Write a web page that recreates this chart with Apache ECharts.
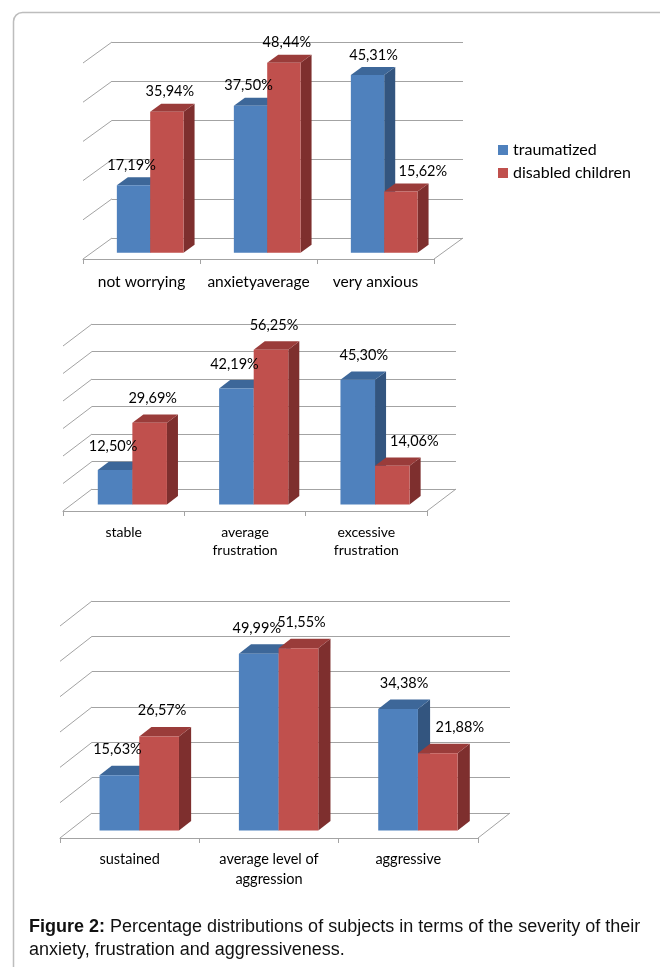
<!DOCTYPE html>
<html><head><meta charset="utf-8">
<script src="https://cdn.jsdelivr.net/npm/echarts@6/dist/echarts.min.js"></script>
<style>html,body{margin:0;padding:0;background:#fff}#c{width:660px;height:967px}</style>
</head><body><div id="c"></div>
<script>
// ---------- data ----------
const seriesNames = ['traumatized', 'disabled children'];
const anxietyCategories = ['not worrying', 'anxietyaverage', 'very anxious'];
const anxietyTraumatized = [17.19, 37.50, 45.31];
const anxietyDisabled = [35.94, 48.44, 15.62];
const frustrationCategories = ['stable', 'average\nfrustration', 'excessive\nfrustration'];
const frustrationTraumatized = [12.50, 42.19, 45.30];
const frustrationDisabled = [29.69, 56.25, 14.06];
const aggressionCategories = ['sustained', 'average level of\naggression', 'aggressive'];
const aggressionTraumatized = [15.63, 49.99, 34.38];
const aggressionDisabled = [26.57, 51.55, 21.88];
const axisMaxima = [50, 60, 60];
const axisInterval = 10;
const captionBold = 'Figure 2:';
const captionText = ' Percentage distributions of subjects in terms of the severity of their\nanxiety, frustration and aggressiveness.';

// ---------- layout / style ----------
const FONT = 'Lato';
const GRID_COLOR = '#A3A3A3';
const BAR_W = 0.285, FRONT_INSET = 0.30, BAR_DEPTH = 0.38;
const COLORS = [
  {front: '#4F81BD', top: '#3D6799', side: '#33557F'},
  {front: '#C0504D', top: '#9A3C3A', side: '#7E2F2E'}
];
const panels = [
  {cats: anxietyCategories, vals: [anxietyTraumatized, anxietyDisabled], max: axisMaxima[0],
   back: {left: 112, top: 42, width: 351, height: 196}, dx: -29, dy: 21, labelGap: 20, catMargin: 14, catLH: 18, catSize: 15.5},
  {cats: frustrationCategories, vals: [frustrationTraumatized, frustrationDisabled], max: axisMaxima[1],
   back: {left: 92, top: 324, width: 364, height: 165}, dx: -29, dy: 22, labelGap: 24, catMargin: 12, catLH: 18, catSize: 14},
  {cats: aggressionCategories, vals: [aggressionTraumatized, aggressionDisabled], max: axisMaxima[2],
   back: {left: 92, top: 601, width: 418, height: 212}, dx: -32, dy: 25, labelGap: 26, catMargin: 11, catLH: 20, catSize: 14.5}
];

function fmt(v) { return v.toFixed(2).replace('.', ',') + '%'; }

const grid = [], xAxis = [], yAxis = [], series = [];
panels.forEach((P, pi) => {
  const gBack = grid.length;
  grid.push({left: P.back.left, top: P.back.top, width: P.back.width, height: P.back.height});
  grid.push({left: P.back.left + P.dx, top: P.back.top + P.dy, width: P.back.width, height: P.back.height});
  const gFront = gBack + 1;
  // back wall axes
  xAxis.push({gridIndex: gBack, type: 'category', data: P.cats, show: false});
  yAxis.push({gridIndex: gBack, type: 'value', min: 0, max: P.max, interval: axisInterval,
    axisLine: {show: false}, axisTick: {show: false}, axisLabel: {show: false},
    splitLine: {show: true, lineStyle: {color: GRID_COLOR, width: 1}}});
  // front floor axes
  xAxis.push({gridIndex: gFront, type: 'category', data: P.cats, boundaryGap: true,
    axisLine: {show: true, lineStyle: {color: GRID_COLOR, width: 1}},
    axisTick: {show: true, length: 5, lineStyle: {color: GRID_COLOR}},
    axisLabel: {interval: 0, margin: P.catMargin, fontFamily: FONT, fontSize: P.catSize, color: '#000', lineHeight: P.catLH}});
  yAxis.push({gridIndex: gFront, type: 'value', min: 0, max: P.max, interval: axisInterval, show: false,
    splitLine: {show: false}});

  // left wall diagonals + right floor diagonal
  const ticks = [];
  for (let v = 0; v <= P.max; v += axisInterval) ticks.push([0, v]);
  series.push({
    type: 'custom', xAxisIndex: gBack, yAxisIndex: gBack, silent: true, data: ticks,
    renderItem: (params, api) => {
      const y = api.coord([0, api.value(1)])[1];
      const cs = params.coordSys;
      const children = [{type: 'line', shape: {x1: cs.x, y1: y, x2: cs.x + P.dx, y2: y + P.dy},
        style: {stroke: GRID_COLOR, lineWidth: 1}}];
      if (api.value(1) === 0) {
        children.push({type: 'line', shape: {x1: cs.x + cs.width, y1: y, x2: cs.x + cs.width + P.dx, y2: y + P.dy},
          style: {stroke: GRID_COLOR, lineWidth: 1}});
      }
      return {type: 'group', children};
    }
  });

  // 3D bars
  [0, 1].forEach(s => {
    const C = COLORS[s];
    const vals = P.vals[s], other = P.vals[1 - s];
    series.push({
      type: 'custom', name: seriesNames[s], xAxisIndex: gFront, yAxisIndex: gFront,
      itemStyle: {color: C.front},
      data: vals.map((v, i) => [i, v]),
      renderItem: (params, api) => {
        const i = api.value(0), v = api.value(1);
        const base = api.coord([i, 0]);
        const top = api.coord([i, v]);
        const band = api.size([1, 0])[0];
        const w = band * BAR_W;
        const ox = -P.dx * FRONT_INSET, oy = -P.dy * FRONT_INSET;
        const x0 = base[0] + ox + (s === 0 ? -w : 0);
        const x1 = x0 + w;
        const yb = base[1] + oy, yt = top[1] + oy;
        const bx = -P.dx * BAR_DEPTH, by = -P.dy * BAR_DEPTH;
        const o = other[i];
        let shift;
        if (s === 0) shift = v < o ? -2 : 6; else shift = v > o ? 3 : 22;
        return {type: 'group', children: [
          {type: 'polygon', shape: {points: [[x1, yt], [x1 + bx, yt + by], [x1 + bx, yb + by], [x1, yb]]},
            style: {fill: C.side}},
          {type: 'polygon', shape: {points: [[x0, yt], [x1, yt], [x1 + bx, yt + by], [x0 + bx, yt + by]]},
            style: {fill: C.top}},
          {type: 'rect', shape: {x: x0, y: yt, width: w, height: yb - yt}, style: {fill: C.front}},
          {type: 'text', z2: 100, style: {text: fmt(v), x: (x0 + x1) / 2 + shift, y: yt - P.labelGap,
            align: 'center', verticalAlign: 'middle', fontFamily: FONT, fontSize: 14.5, fill: '#000'}}
        ]};
      }
    });
  });
});

const chart = echarts.init(document.getElementById('c'), null, {renderer: 'canvas'});
chart.setOption({
  animation: false,
  backgroundColor: '#fff',
  grid, xAxis, yAxis, series,
  legend: {data: seriesNames, orient: 'vertical', left: 498, top: 141, padding: 0, itemWidth: 10, itemHeight: 10,
    itemGap: 5, icon: 'rect', selectedMode: false,
    textStyle: {fontFamily: FONT, fontSize: 16, color: '#000', lineHeight: 18}},
  graphic: [
    {type: 'rect', left: 11, top: 10, shape: {x: 0, y: 0, width: 720, height: 1000, r: 9},
      style: {fill: 'none', stroke: '#BDBDBD', lineWidth: 1.5}, silent: true},
    {type: 'text', left: 29, top: 916, silent: true,
      style: {text: '{b|' + captionBold + '}' + captionText,
        fontFamily: 'Liberation Sans', fontSize: 18, fill: '#111', lineHeight: 23,
        rich: {b: {fontFamily: 'Liberation Sans', fontSize: 18, fontWeight: 'bold', fill: '#111', lineHeight: 23}}}}
  ]
});
</script>
</body></html>
